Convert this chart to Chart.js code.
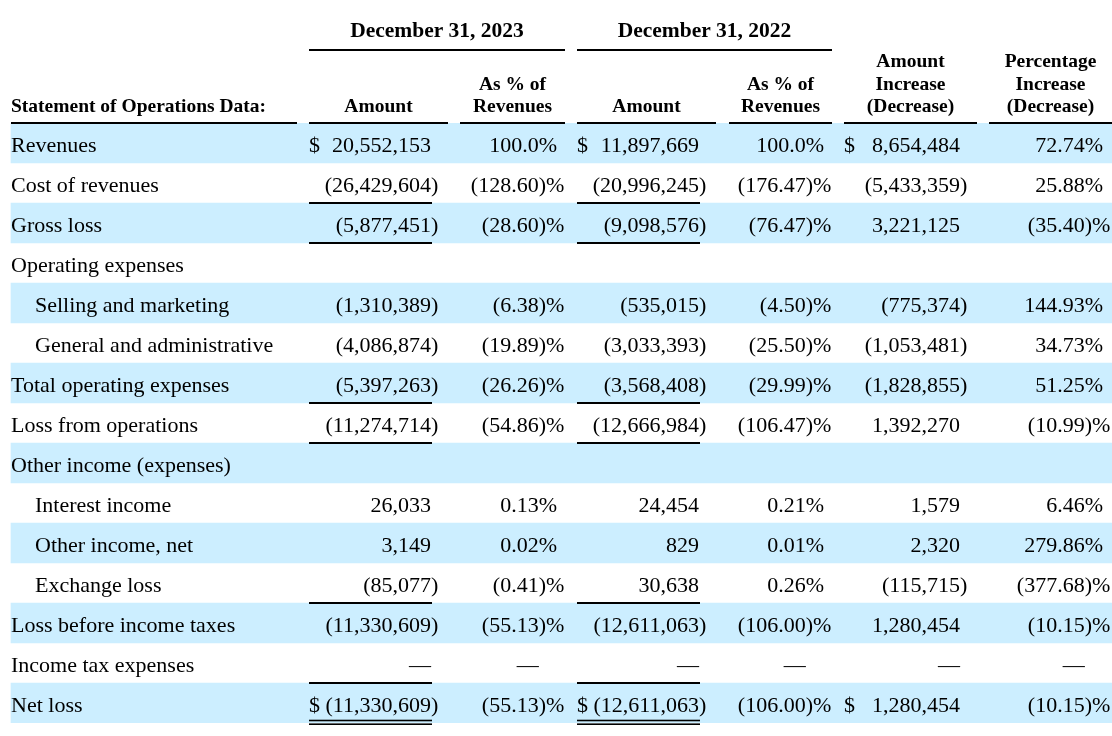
<!DOCTYPE html>
<html>
<head>
<meta charset="utf-8">
<script src="https://cdn.jsdelivr.net/npm/chart.js@4.4.1/dist/chart.umd.min.js"></script>
<style>
  html, body { margin: 0; padding: 0; background: #fff; overflow: hidden; }
  #wrap { width: 1112px; height: 736px; }
</style>
</head>
<body>
<div id="wrap"><canvas id="opsTable" width="1112" height="736"></canvas></div>
<script>
// Statement of operations data
const rowLabels = ['Revenues', 'Cost of revenues', 'Gross loss', 'Operating expenses',
    'Selling and marketing', 'General and administrative', 'Total operating expenses',
    'Loss from operations', 'Other income (expenses)', 'Interest income', 'Other income, net',
    'Exchange loss', 'Loss before income taxes', 'Income tax expenses', 'Net loss'];
const indentedRows = [4, 5, 9, 10, 11];
const amount2023 = [20552153, -26429604, -5877451, null, -1310389, -4086874, -5397263,
    -11274714, null, 26033, 3149, -85077, -11330609, 0, -11330609];
const pct2023 = [100.0, -128.60, -28.60, null, -6.38, -19.89, -26.26,
    -54.86, null, 0.13, 0.02, -0.41, -55.13, 0, -55.13];
const amount2022 = [11897669, -20996245, -9098576, null, -535015, -3033393, -3568408,
    -12666984, null, 24454, 829, 30638, -12611063, 0, -12611063];
const pct2022 = [100.0, -176.47, -76.47, null, -4.50, -25.50, -29.99,
    -106.47, null, 0.21, 0.01, 0.26, -106.00, 0, -106.00];
const changeAmount = [8654484, -5433359, 3221125, null, -775374, -1053481, -1828855,
    1392270, null, 1579, 2320, -115715, 1280454, 0, 1280454];
const changePct = [72.74, 25.88, -35.40, null, 144.93, 34.73, 51.25,
    -10.99, null, 6.46, 279.86, -377.68, -10.15, 0, -10.15];
const dollarRows = [0, 14];
const ruleRows = [1, 2, 6, 7, 11, 13];
const doubleRuleRows = [14];

// Header texts
const tableTitle = 'Statement of Operations Data:';
const groupHeaders = ['December 31, 2023', 'December 31, 2022'];
const columnHeaders = [['Amount'], ['As % of', 'Revenues'], ['Amount'], ['As % of', 'Revenues'],
    ['Amount', 'Increase', '(Decrease)'], ['Percentage', 'Increase', '(Decrease)']];

// Layout (pixels on the x scale)
const columns = [
    { values: amount2023, left: 309, right: 448, anchor: 431, pct: false, rule: true },
    { values: pct2023, left: 460, right: 565, anchor: 557, pct: true },
    { values: amount2022, left: 577, right: 716, anchor: 699, pct: false, rule: true },
    { values: pct2022, left: 729, right: 832, anchor: 824, pct: true },
    { values: changeAmount, left: 844, right: 977, anchor: 960, pct: false },
    { values: changePct, left: 989, right: 1112, anchor: 1103, pct: true }
];
const SERIF = '"Liberation Serif", "Times New Roman", serif';
const bandColor = '#cceeff';

function fmtAmount(v) {
    return Math.abs(v).toLocaleString('en-US');
}

function fmtPct(v) {
    const a = Math.abs(v);
    return a === 100 ? a.toFixed(1) : a.toFixed(2);
}

const bandData = rowLabels.map((_, i) => (i % 2 === 0 ? [11, 1112] : null));

const tablePlugin = {
    id: 'tablePlugin',
    afterDatasetsDraw(chart) {
        const ctx = chart.ctx;
        const xs = chart.scales.x;
        const ys = chart.scales.y;
        const X = v => xs.getPixelForValue(v);
        const top = chart.chartArea.top;
        const half = (ys.getPixelForValue(1) - ys.getPixelForValue(0)) / 2;

        ctx.save();
        ctx.fillStyle = '#000';
        ctx.strokeStyle = '#000';
        ctx.textBaseline = 'alphabetic';

        // headers
        ctx.font = 'bold 19.5px ' + SERIF;
        ctx.textAlign = 'left';
        ctx.fillText(tableTitle, X(11), top - 11);
        hLine(ctx, X(11), X(297), top, 2);

        columns.forEach((col, ci) => {
            const lines = columnHeaders[ci];
            ctx.textAlign = 'center';
            const cx = X((col.left + col.right) / 2);
            lines.forEach((t, li) => {
                ctx.fillText(t, cx, top - 11 - (lines.length - 1 - li) * 22.5);
            });
            hLine(ctx, X(col.left), X(col.right), top, 2);
        });

        ctx.font = 'bold 21.5px ' + SERIF;
        groupHeaders.forEach((t, gi) => {
            const a = columns[gi * 2], b = columns[gi * 2 + 1];
            ctx.textAlign = 'center';
            ctx.fillText(t, X((a.left + b.right) / 2), top - 86);
            hLine(ctx, X(a.left), X(b.right), top - 73, 2);
        });

        // body
        ctx.font = '22px ' + SERIF;
        const parenW = ctx.measureText(')').width;
        const pctW = ctx.measureText('%').width;

        rowLabels.forEach((label, r) => {
            const yc = ys.getPixelForValue(r);
            const base = yc + 9;
            ctx.textAlign = 'left';
            ctx.fillText(label, X(indentedRows.includes(r) ? 35 : 11), base);

            columns.forEach(col => {
                const v = col.values[r];
                if (v === null || v === undefined) return;
                ctx.textAlign = 'right';
                if (v === 0) {
                    ctx.fillText('\u2014', X(col.anchor) - (col.pct ? pctW : 0), base);
                    return;
                }
                let s = col.pct ? fmtPct(v) : fmtAmount(v);
                if (v < 0) s = '(' + s + ')';
                if (col.pct) s += '%';
                ctx.fillText(s, X(col.anchor) + (v < 0 ? parenW : 0), base);
                if (!col.pct && dollarRows.includes(r)) {
                    ctx.textAlign = 'left';
                    ctx.fillText('$', X(col.left), base);
                }
            });

            columns.filter(c => c.rule).forEach(col => {
                if (ruleRows.includes(r)) {
                    hLine(ctx, X(col.left), X(col.anchor + 1), yc + half, 2);
                }
                if (doubleRuleRows.includes(r)) {
                    hLine(ctx, X(col.left), X(col.anchor + 1), yc + half - 2.5, 1.6);
                    hLine(ctx, X(col.left), X(col.anchor + 1), yc + half + 1.2, 1.6);
                }
            });
        });
        ctx.restore();
    }
};

function hLine(ctx, x1, x2, y, w) {
    ctx.fillRect(x1, y - w / 2, x2 - x1, w);
}

new Chart(document.getElementById('opsTable').getContext('2d'), {
    type: 'bar',
    data: {
        labels: rowLabels,
        datasets: [{
            data: bandData,
            backgroundColor: bandColor,
            borderWidth: 0,
            borderSkipped: false,
            barPercentage: 1,
            categoryPercentage: 1
        }]
    },
    options: {
        indexAxis: 'y',
        responsive: false,
        animation: false,
        layout: { padding: { top: 123, bottom: 13, left: 0, right: 0 } },
        plugins: {
            legend: { display: false },
            tooltip: { enabled: false }
        },
        scales: {
            x: { type: 'linear', min: 0, max: 1112, display: false },
            y: { type: 'category', display: false, offset: true, grid: { display: false } }
        }
    },
    plugins: [tablePlugin]
});
</script>
</body>
</html>
